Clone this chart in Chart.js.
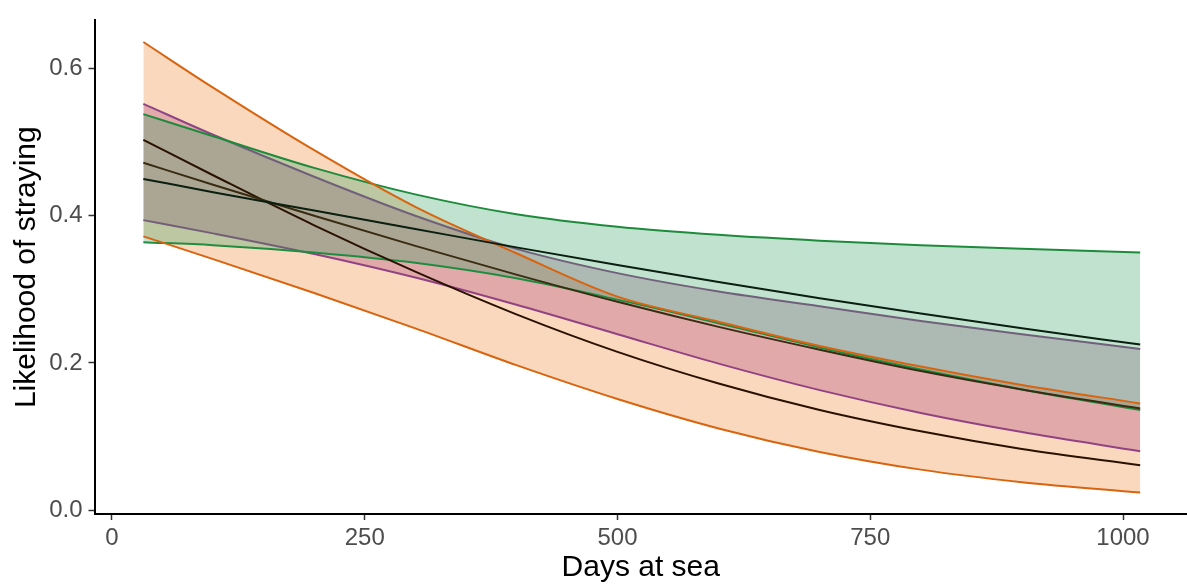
<!DOCTYPE html>
<html>
<head>
<meta charset="utf-8">
<script src="https://cdn.jsdelivr.net/npm/chart.js@4"></script>
<style>
  body { margin: 0; background: #fff; }
  canvas { display: block; }
</style>
</head>
<body>
<canvas id="chart" width="1187" height="586"></canvas>
<script>
// days at sea (x values shared by every curve)
const days = [31, 100, 200, 300, 400, 500, 600, 700, 800, 900, 1017];

const orangeHigh = [0.636, 0.574, 0.489, 0.412, 0.349, 0.290, 0.256, 0.223, 0.195, 0.170, 0.145];
const orangeMean = [0.503, 0.455, 0.387, 0.324, 0.266, 0.215, 0.172, 0.136, 0.107, 0.083, 0.061];
const orangeLow = [0.372, 0.341, 0.295, 0.247, 0.197, 0.151, 0.111, 0.079, 0.055, 0.038, 0.024];

const purpleHigh = [0.552, 0.510, 0.453, 0.400, 0.355, 0.322, 0.297, 0.277, 0.257, 0.239, 0.219];
const purpleMean = [0.472, 0.442, 0.400, 0.359, 0.320, 0.283, 0.249, 0.218, 0.189, 0.164, 0.138];
const purpleLow = [0.394, 0.376, 0.348, 0.316, 0.279, 0.239, 0.199, 0.163, 0.132, 0.106, 0.080];

const greenHigh = [0.538, 0.508, 0.465, 0.429, 0.402, 0.385, 0.374, 0.366, 0.360, 0.355, 0.350];
const greenMean = [0.450, 0.432, 0.407, 0.382, 0.357, 0.333, 0.310, 0.288, 0.267, 0.247, 0.225];
const greenLow = [0.364, 0.360, 0.350, 0.336, 0.315, 0.286, 0.254, 0.221, 0.191, 0.164, 0.136];

const xTicks = [0, 250, 500, 750, 1000];
const yTicks = [0, 0.2, 0.4, 0.6];

const pts = (ys) => ys.map((y, i) => ({ x: days[i], y: y }));

// lower line first, then upper line filling down to it; lower order = drawn on top
function band(high, low, lineColor, fillColor, order, width) {
  return [
    {
      data: pts(low),
      borderColor: lineColor,
      borderWidth: width,
      fill: false,
      order: order + 1,
    },
    {
      data: pts(high),
      borderColor: lineColor,
      borderWidth: width,
      backgroundColor: fillColor,
      fill: "-1",
      order: order,
    },
  ];
}

function line(ys, color, order) {
  return { data: pts(ys), borderColor: color, borderWidth: 2, fill: false, order: order };
}

const tickFont = { family: "'Liberation Sans', Arial, sans-serif", size: 24 };
const titleFont = { family: "'Liberation Sans', Arial, sans-serif", size: 30 };

new Chart(document.getElementById("chart"), {
  type: "line",
  data: {
    datasets: [
      // orange ribbon fill only, its outline goes on top later
      ...band(orangeHigh, orangeLow, "rgba(0,0,0,0)", "rgba(240,125,40,0.3)", 20, 0),
      ...band(purpleHigh, purpleLow, "#8e4585", "rgba(165,60,120,0.3)", 16, 2),
      ...band(greenHigh, greenLow, "#1e8a3c", "rgba(45,158,95,0.3)", 12, 2),
      line(orangeHigh, "#d9640f", 6),
      line(orangeLow, "#d9640f", 5),
      line(orangeMean, "#2b1200", 3),
      line(purpleMean, "#3a2c12", 2),
      line(greenMean, "#0a1f10", 1),
    ],
  },
  options: {
    responsive: false,
    animation: false,
    devicePixelRatio: 1,
    layout: { padding: { top: 11, right: 0, left: 0, bottom: 0 } },
    elements: {
      point: { radius: 0 },
      line: { cubicInterpolationMode: "monotone" },
    },
    plugins: {
      legend: { display: false },
      tooltip: { enabled: false },
    },
    scales: {
      x: {
        type: "linear",
        min: -17.3,
        max: 1063.3,
        afterBuildTicks: (s) => { s.ticks = xTicks.map((v) => ({ value: v })); },
        afterFit: (s) => { s.height = 72; },
        ticks: { color: "#4d4d4d", font: tickFont, padding: 4, maxRotation: 0, callback: (v) => String(v) },
        grid: { drawOnChartArea: false, drawTicks: true, tickLength: 6, color: "#333", tickWidth: 1.5 },
        border: { display: true, color: "#000", width: 2 },
        title: { display: true, text: "Days at sea", color: "#000", font: titleFont, padding: { top: 0, bottom: 0 } },
      },
      y: {
        min: -0.0053,
        max: 0.6654,
        afterBuildTicks: (s) => { s.ticks = yTicks.map((v) => ({ value: v })); },
        afterFit: (s) => { s.width = 94.5; },
        ticks: { color: "#4d4d4d", font: tickFont, padding: 6, callback: (v) => v.toFixed(1) },
        grid: { drawOnChartArea: false, drawTicks: true, tickLength: 6, color: "#333", tickWidth: 1.5 },
        border: { display: true, color: "#000", width: 2 },
        title: { display: true, text: "Likelihood of straying", color: "#000", font: titleFont, padding: { top: 9, bottom: 0 } },
      },
    },
  },
});
</script>
</body>
</html>
